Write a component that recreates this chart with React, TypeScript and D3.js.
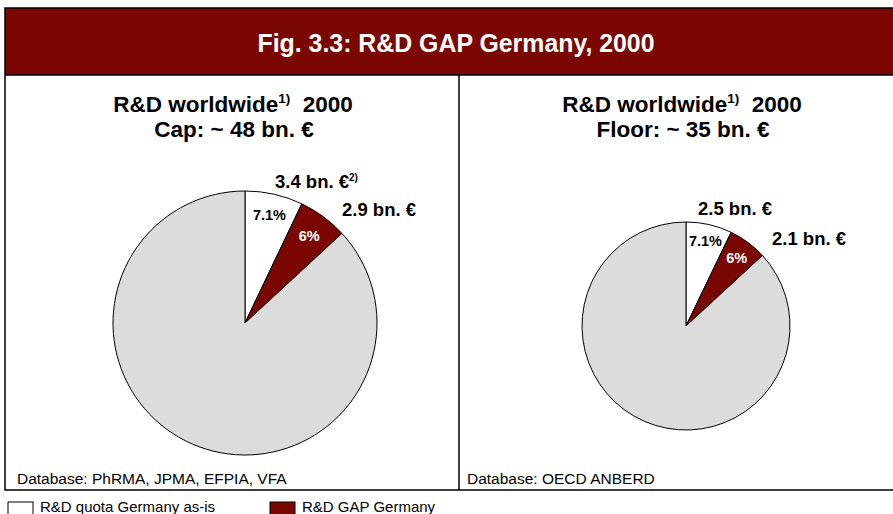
import { useEffect, useRef } from "react"
import * as d3 from "d3"

// slice order: quota as-is, gap, rest of world
const sliceKeys = ["quota", "gap", "rest"]
const capValues = [3.4, 2.9, 41.7]
const floorValues = [2.5, 2.1, 30.4]
const shareLabels = ["7.1%", "6%"]
const capAmountLabels = ["3.4 bn. €", "2.9 bn. €"]
const floorAmountLabels = ["2.5 bn. €", "2.1 bn. €"]
const legendLabels = ["R&D quota Germany as-is", "R&D GAP Germany"]

const RED = "#7a0800"
const GREY = "#dcdcdc"
const colors: Record<string, string> = { quota: "#ffffff", gap: RED, rest: GREY }
const FONT = "'Liberation Sans', Arial, sans-serif"

const W = 893
const H = 514

interface Panel {
  cx: number
  cy: number
  r: number
  values: number[]
  amounts: string[]
  line2: string
  source: string
  titleX: number
  note2: boolean
  amountOffsets: [number, number][]
}

const panels: Panel[] = [
  {
    cx: 245, cy: 323, r: 132,
    values: capValues, amounts: capAmountLabels,
    line2: "Cap: ~ 48 bn. €", source: "Database: PhRMA, JPMA, EFPIA, VFA",
    titleX: 233, note2: true,
    amountOffsets: [[30, -135], [97, -107]],
  },
  {
    cx: 686, cy: 326, r: 104,
    values: floorValues, amounts: floorAmountLabels,
    line2: "Floor: ~ 35 bn. €", source: "Database: OECD ANBERD",
    titleX: 682, note2: false,
    amountOffsets: [[12, -111], [86, -81]],
  },
]

export default function App() {
  const svgRef = useRef<SVGSVGElement>(null)

  useEffect(() => {
    if (!svgRef.current) return
    const svg = d3.select(svgRef.current)
    svg.selectAll("*").remove()

    // header band + frame
    svg.append("rect").attr("x", 5).attr("y", 8).attr("width", W + 10).attr("height", 67).attr("fill", RED)
    svg.append("rect")
      .attr("x", 5).attr("y", 8).attr("width", W + 10).attr("height", 482)
      .attr("fill", "none").attr("stroke", "#000").attr("stroke-width", 1.5)
    svg.append("line").attr("x1", 5).attr("x2", W).attr("y1", 75).attr("y2", 75)
      .attr("stroke", "#000").attr("stroke-width", 1.5)
    svg.append("line").attr("x1", 459).attr("x2", 459).attr("y1", 75).attr("y2", 490)
      .attr("stroke", "#000").attr("stroke-width", 1.5)

    svg.append("text")
      .attr("x", 456).attr("y", 52)
      .attr("text-anchor", "middle")
      .attr("font-family", "'Liberation Sans Narrow', " + FONT)
      .attr("font-weight", "bold").attr("font-size", 25)
      .attr("fill", "#fff")
      .attr("textLength", 397).attr("lengthAdjust", "spacingAndGlyphs")
      .text("Fig. 3.3: R&D GAP Germany, 2000")

    const pie = d3.pie<number>().sort(null).value((d) => d)

    panels.forEach((p, pi) => {
      const g = svg.append("g").attr("transform", `translate(${p.cx},${p.cy})`)
      const arcs = pie(p.values)
      const arc = d3.arc<d3.PieArcDatum<number>>().innerRadius(0).outerRadius(p.r)

      g.selectAll("path.slice")
        .data(arcs)
        .enter()
        .append("path")
        .attr("class", "slice")
        .attr("d", arc)
        .attr("fill", (d, i) => colors[sliceKeys[i]])
        .attr("stroke", "#000")
        .attr("stroke-width", 1)
        .attr("stroke-linejoin", "round")

      // share labels inside slices
      const labelArcs = [
        d3.arc<d3.PieArcDatum<number>>().innerRadius(p.r * 0.84).outerRadius(p.r * 0.84),
        d3.arc<d3.PieArcDatum<number>>().innerRadius(p.r * 0.82).outerRadius(p.r * 0.82),
      ]
      shareLabels.forEach((lab, i) => {
        const [x, y] = labelArcs[i].centroid(arcs[i])
        g.append("text")
          .attr("x", x).attr("y", y)
          .attr("dy", "0.35em")
          .attr("text-anchor", "middle")
          .attr("font-family", FONT).attr("font-weight", "bold").attr("font-size", 14.5)
          .attr("fill", i === 1 ? "#fff" : "#000")
          .text(lab)
      })

      // amount labels outside
      p.amounts.forEach((lab, i) => {
        const [ox, oy] = p.amountOffsets[i]
        const t = g.append("text")
          .attr("x", ox).attr("y", oy)
          .attr("font-family", FONT).attr("font-weight", "bold").attr("font-size", 18.5)
          .attr("fill", "#000")
          .text(lab)
        if (i === 0 && p.note2) {
          t.append("tspan").attr("font-size", 10).attr("dx", 0).attr("dy", -7).text("2)")
        }
      })

      // panel titles
      const t1 = svg.append("text")
        .attr("x", p.titleX).attr("y", 111.5)
        .attr("text-anchor", "middle")
        .attr("font-family", FONT).attr("font-weight", "bold").attr("font-size", 22.5)
        .attr("fill", "#000")
      t1.append("tspan").text("R&D worldwide")
      t1.append("tspan").attr("font-size", 13.5).attr("dy", -9).text("1)")
      t1.append("tspan").attr("dy", 9).text("\u00a0 2000")

      svg.append("text")
        .attr("x", p.titleX + 1).attr("y", 136.5)
        .attr("text-anchor", "middle")
        .attr("font-family", FONT).attr("font-weight", "bold").attr("font-size", 22.5)
        .attr("fill", "#000")
        .text(p.line2)

      svg.append("text")
        .attr("x", pi === 0 ? 17 : 467).attr("y", 484)
        .attr("font-family", FONT).attr("font-size", 15.5)
        .attr("fill", "#000")
        .text(p.source)
    })

    // legend
    const legendX = [8, 270]
    legendLabels.forEach((lab, i) => {
      svg.append("rect")
        .attr("x", legendX[i]).attr("y", 502).attr("width", 25).attr("height", 16)
        .attr("fill", i === 0 ? "#fff" : RED)
        .attr("stroke", "#000").attr("stroke-width", 1)
      svg.append("text")
        .attr("x", legendX[i] + 32).attr("y", 512)
        .attr("font-family", FONT).attr("font-size", 15)
        .attr("fill", "#000")
        .text(lab)
    })
  }, [])

  return (
    <svg
      ref={svgRef}
      width={W}
      height={H}
      style={{ position: "absolute", left: 0, top: 0, background: "#fff" }}
    />
  )
}
